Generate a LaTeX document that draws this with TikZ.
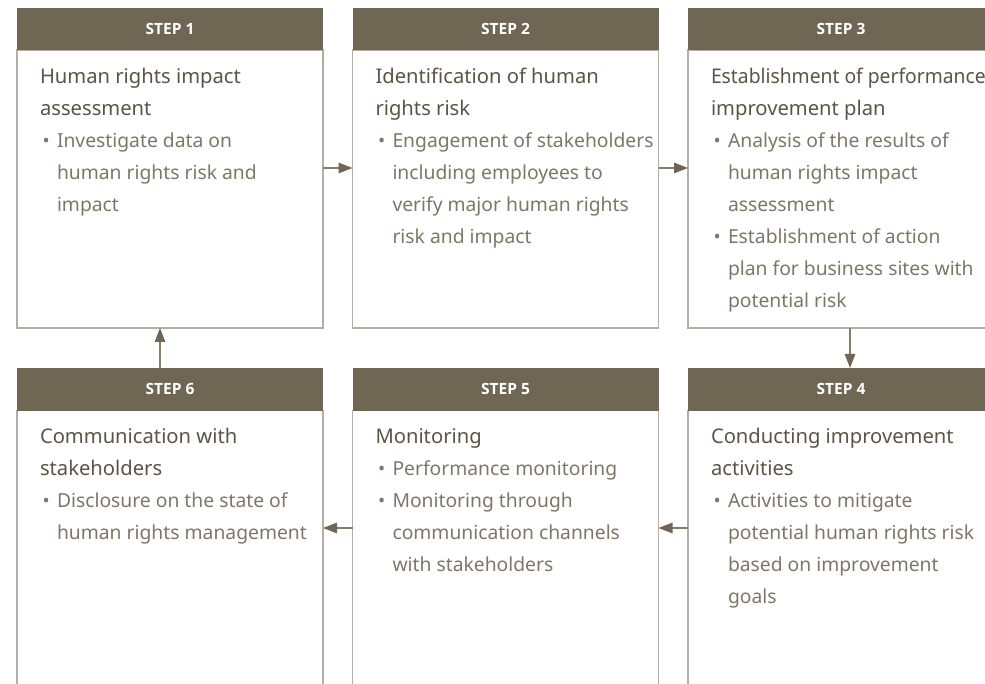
\documentclass[tikz,border=0pt]{standalone}
\usepackage{fontspec}
\usepackage{graphicx}
\setmainfont{Noto Sans}
\newfontfamily\headfont{Open Sans}
\usetikzlibrary{arrows.meta}
\definecolor{hdr}{HTML}{6F6753}
\definecolor{rulec}{HTML}{B3AEA1}
\definecolor{ttl}{HTML}{5C5444}
\definecolor{txt}{HTML}{7F7765}
\definecolor{arrc}{HTML}{857D6B}

% one step's text: title rows, then bullet rows
\newcommand\ttlrow[1]{\multicolumn{2}{@{}l@{}}{\color{ttl}\fontsize{20.2}{32}\selectfont #1}\\}
\newcommand\bulrow[1]{\makebox[17pt][l]{\hspace{2.5pt}\raisebox{0.5pt}{\fontsize{19}{19}\selectfont •}} & #1\\}
\newcommand\controw[1]{ & #1\\}

\begin{document}
\begin{tikzpicture}[x=1pt,y=-1pt,
  stephead/.style={fill=hdr, draw=none, minimum width=306pt, minimum height=42.5pt,
    inner sep=0pt, outer sep=0pt, anchor=north west, text=white,
    font=\headfont\bfseries\fontsize{15.5}{17}\selectfont},
  stepbody/.style={draw=rulec, line width=1.3pt, minimum width=306pt,
    inner sep=0pt, outer sep=0pt, anchor=north west},
  steptext/.style={anchor=north west, inner sep=0pt, outer sep=0pt, text=txt, align=left,
    font=\fontsize{19.3}{32}\selectfont},
  flow/.style={draw=arrc, line width=1.3pt,
    -{Triangle[length=14pt,width=10.5pt,fill=hdr,color=hdr]}}
]
\useasboundingbox (0,0) rectangle (985,684);
\clip (0,0) rectangle (985,684);
\fill[white] (0,0) rectangle (985,684);

% upper row
\node[stepbody, minimum height=278pt] (s1) at (17,50) {};
\node[stepbody, minimum height=278pt] (s2) at (352.5,50) {};
\node[stepbody, minimum height=278pt] (s3) at (688,50) {};
\node[stephead] (h1) at (17,8) {STEP 1};
\node[stephead] (h2) at (352.5,8) {STEP 2};
\node[stephead] (h3) at (688,8) {STEP 3};

% lower row (runs past the lower edge)
\node[stepbody, minimum height=300pt] (s6) at (17,410.5) {};
\node[stepbody, minimum height=300pt] (s5) at (352.5,410.5) {};
\node[stepbody, minimum height=300pt] (s4) at (688,410.5) {};
\node[stephead] (h6) at (17,368) {STEP 6};
\node[stephead] (h5) at (352.5,368) {STEP 5};
\node[stephead] (h4) at (688,368) {STEP 4};

% texts
\node[steptext] (t1) at (40,61.5) {\begin{tabular}{@{}l@{}l@{}}
\ttlrow{Human rights impact}
\ttlrow{assessment}
\bulrow{Investigate data on}
\controw{human rights risk and}
\controw{impact}
\end{tabular}};
\node[steptext] (t2) at (375.5,61.5) {\begin{tabular}{@{}l@{}l@{}}
\ttlrow{Identification of human}
\ttlrow{rights risk}
\bulrow{Engagement of stakeholders}
\controw{including employees to}
\controw{verify major human rights}
\controw{risk and impact}
\end{tabular}};
\node[steptext] (t3) at (711,61.5) {\begin{tabular}{@{}l@{}l@{}}
\ttlrow{\scalebox{0.955}[1]{Establishment of performance}}
\ttlrow{improvement plan}
\bulrow{Analysis of the results of}
\controw{human rights impact}
\controw{assessment}
\bulrow{Establishment of action}
\controw{plan for business sites with}
\controw{potential risk}
\end{tabular}};
\node[steptext] (t6) at (40,421.5) {\begin{tabular}{@{}l@{}l@{}}
\ttlrow{Communication with}
\ttlrow{stakeholders}
\bulrow{Disclosure on the state of}
\controw{human rights management}
\end{tabular}};
\node[steptext] (t5) at (375.5,421.5) {\begin{tabular}{@{}l@{}l@{}}
\ttlrow{Monitoring}
\bulrow{Performance monitoring}
\bulrow{Monitoring through}
\controw{communication channels}
\controw{with stakeholders}
\end{tabular}};
\node[steptext] (t4) at (711,421.5) {\begin{tabular}{@{}l@{}l@{}}
\ttlrow{Conducting improvement}
\ttlrow{activities}
\bulrow{Activities to mitigate}
\controw{potential human rights risk}
\controw{based on improvement}
\controw{goals}
\end{tabular}};

% connectors
\draw[flow] ([yshift=-118pt]s1.north east) -- ([yshift=-118pt]s2.north west);
\draw[flow] ([yshift=-118pt]s2.north east) -- ([yshift=-118pt]s3.north west);
\draw[flow] ([xshift=162pt]s3.south west) -- ([xshift=162pt]h4.north west);
\draw[flow] ([yshift=-117.5pt]s4.north west) -- ([yshift=-117.5pt]s5.north east);
\draw[flow] ([yshift=-117.5pt]s5.north west) -- ([yshift=-117.5pt]s6.north east);
\draw[flow] ([xshift=143pt]h6.north west) -- ([xshift=143pt]s1.south west);
\end{tikzpicture}
\end{document}
